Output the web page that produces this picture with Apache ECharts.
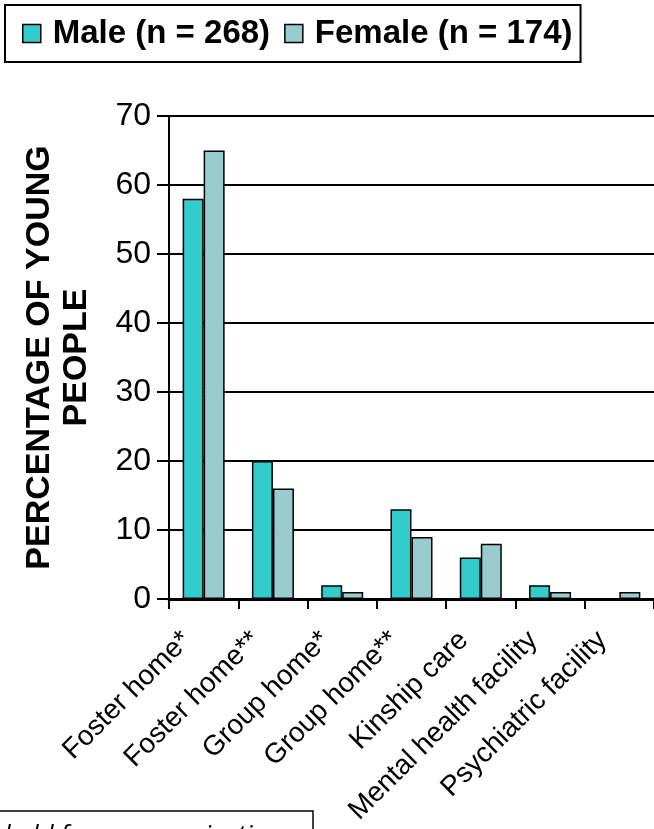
<!DOCTYPE html>
<html><head><meta charset="utf-8">
<script src="https://cdn.jsdelivr.net/npm/echarts@6/dist/echarts.min.js"></script>
<style>html,body{margin:0;padding:0;background:#fff}#c{width:654px;height:829px}</style>
</head><body><div id="c"></div>
<script>
var categories = ['Foster home*', 'Foster home**', 'Group home*', 'Group home**', 'Kinship care', 'Mental health facility', 'Psychiatric facility'];
var maleValues = [58, 20, 2, 13, 6, 2, 0];
var femaleValues = [65, 16, 1, 9, 8, 1, 1];
var seriesNames = ['Male (n = 268)', 'Female (n = 174)'];
var yTitle = 'PERCENTAGE OF YOUNG\nPEOPLE';
var footText = 'held for an organization';

var chart = echarts.init(document.getElementById('c'), null, {renderer: 'canvas'});
chart.setOption({
  animation: false,
  backgroundColor: '#fff',
  textStyle: {fontFamily: 'Liberation Sans, Arial, sans-serif', color: '#000'},
  legend: {
    left: 5, top: 5,
    data: seriesNames,
    borderColor: '#000', borderWidth: 2,
    padding: [12, 8, 12, 17],
    itemWidth: 18, itemHeight: 18, itemGap: 14,
    icon: 'rect',
    itemStyle: {borderColor: '#000', borderWidth: 1.5},
    textStyle: {fontSize: 33, fontWeight: 'bold', color: '#000', fontFamily: 'Liberation Sans, Arial, sans-serif', padding: [0,0,0,7]}
  },
  grid: {left: 169, right: -4, top: 116, bottom: 230, containLabel: false},
  xAxis: {
    type: 'category', data: categories,
    axisLine: {lineStyle: {color: '#000', width: 3}},
    axisTick: {show: true, length: 10, lineStyle: {color: '#000', width: 2}},
    axisLabel: {rotate: 45, fontSize: 28, color: '#000', margin: 20, interval: 0, padding: [0, 24, 0, 0]}
  },
  yAxis: {
    type: 'value', min: 0, max: 70, interval: 10,
    name: yTitle, nameLocation: 'middle', nameRotate: 90, nameGap: 74,
    nameTextStyle: {fontSize: 34, fontWeight: 'bold', color: '#000', lineHeight: 37, align: 'center'},
    axisLine: {show: true, lineStyle: {color: '#000', width: 2}},
    axisTick: {show: true, length: 12, lineStyle: {color: '#000', width: 2}},
    axisLabel: {fontSize: 32, color: '#000', margin: 18},
    splitLine: {show: true, lineStyle: {color: '#000', width: 2}}
  },
  series: [
    {name: seriesNames[0], type: 'bar', data: maleValues, barWidth: 21, barGap: '0%',
     itemStyle: {color: '#33CCCC', borderColor: '#000', borderWidth: 1.5}},
    {name: seriesNames[1], type: 'bar', data: femaleValues, barWidth: 21, barGap: '0%',
     itemStyle: {color: '#99CCCC', borderColor: '#000', borderWidth: 1.5}}
  ],
  graphic: [
    {type: 'rect', shape: {x: -5, y: 811, width: 318, height: 40}, style: {fill: 'none', stroke: '#000', lineWidth: 1.5}},
    {type: 'text', left: 4, top: 823, style: {text: footText, font: 'italic 26px "Open Sans", sans-serif', fill: '#000'}}
  ]
});
</script></body></html>
